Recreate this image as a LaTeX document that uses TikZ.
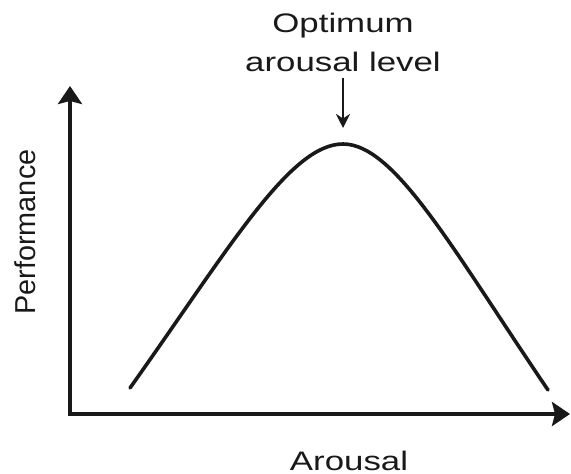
\documentclass[tikz,border=0pt]{standalone}
\usepackage{fontspec}
\setmainfont{Liberation Sans}
\usetikzlibrary{arrows.meta}
\colorlet{inkcol}{black!90}

\tikzset{
  axisline/.style={draw=inkcol, line width=2.4pt, line join=miter,
    {Stealth[length=9pt, width=12pt, inset=1.5pt]}-{Stealth[length=9pt, width=12pt, inset=1.5pt]}},
  curveline/.style={draw=inkcol, line width=1.8pt, line cap=round},
  pointer/.style={draw=inkcol, line width=1.1pt, -{Stealth[length=7pt, width=7pt]}},
  horizlbl/.style={text=inkcol, inner sep=0pt, xscale=1.3, font=\fontsize{13.4}{19.5}\selectfont},
}

\begin{document}
\begin{tikzpicture}[x=0.5pt, y=-0.5pt, >=Stealth]
  \useasboundingbox (0,0) rectangle (571,474);

  % Axes
  \coordinate (origin) at (70,414);
  \coordinate (ytip) at (70,86);
  \coordinate (xtip) at (570,414);
  \draw[axisline] (ytip) -- (origin) -- (xtip);

  % Inverted-U curve, rising then falling
  \coordinate (lowleft) at (130,388);
  \coordinate (peak) at (343,144);
  \coordinate (lowright) at (548,390);
  \draw[curveline] (lowleft) .. controls (230,247) and (290,144) .. (peak)
    .. controls (395,144) and (453,250) .. (lowright);

  % Labels
  \node[horizlbl, align=center, anchor=south] (optlbl) at (343,72) {Optimum\\arousal level};
  \draw[pointer, shorten <=3pt, shorten >=8pt] (optlbl.south) -- (peak);

  \node[horizlbl, anchor=base] (xlbl) at (349,470) {Arousal};
  \node[text=inkcol, inner sep=0pt, rotate=90, font=\fontsize{14.4}{17}\selectfont] (ylbl) at (25,232) {Performance};
\end{tikzpicture}
\end{document}
